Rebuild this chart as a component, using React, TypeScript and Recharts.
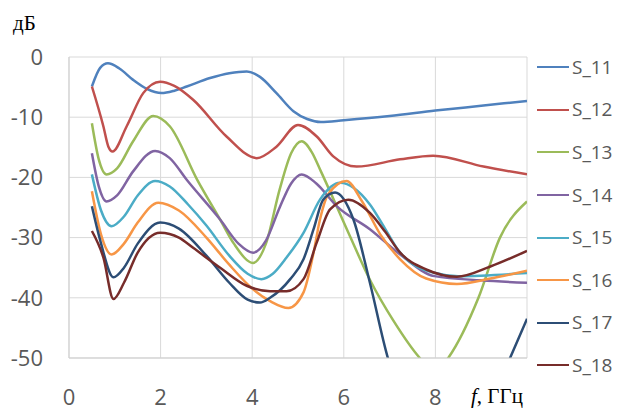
import { LineChart, Line, XAxis, YAxis, CartesianGrid, Legend } from "recharts";

// frequency (GHz), level (dB) pairs
const s11: [number, number][] = [
  [0.5, -4.9], [0.68, -1.8], [0.85, -1.05], [1.1, -1.9], [1.4, -3.8], [1.7, -5.3],
  [2.02, -6], [2.3, -5.6], [2.57, -4.9], [3.08, -3.5], [3.5, -2.7], [3.88, -2.4],
  [4.17, -3.3], [4.53, -6], [4.9, -9], [5.2, -10.3], [5.5, -10.8], [6, -10.5],
  [7, -9.8], [8, -8.9], [9, -8.1], [10, -7.3],
];
const s12: [number, number][] = [
  [0.5, -4.9], [0.75, -11.5], [0.86, -14.9], [0.95, -15.7], [1.26, -11.5], [1.62, -6],
  [1.99, -4.1], [2.3, -4.8], [2.71, -7.1], [3.44, -13.2], [4.1, -16.8], [4.53, -14.9],
  [5.0, -11.3], [5.41, -13.2], [5.77, -16.5], [6.28, -18.2], [7.23, -17.0], [7.95, -16.4],
  [9.05, -18.2], [10, -19.5],
];
const s13: [number, number][] = [
  [0.5, -11], [0.65, -17], [0.82, -19.5], [1.05, -18.5], [1.4, -14], [1.84, -9.8],
  [2.2, -11.5], [2.8, -20.4], [3.3, -27], [3.6, -31], [4.02, -34.2], [4.3, -31],
  [4.6, -22], [4.85, -16], [5.08, -14], [5.3, -15.8], [5.5, -19], [6.13, -29.7],
  [6.57, -37], [7.1, -44], [7.66, -50], [8, -52.5], [8.28, -50], [8.94, -40],
  [9.41, -30], [10, -24],
];
const s14: [number, number][] = [
  [0.5, -16], [0.65, -21.5], [0.82, -24], [1.05, -23], [1.4, -19], [1.88, -15.6],
  [2.2, -16.8], [2.57, -20.4], [3.3, -27], [3.7, -31], [4.02, -32.5], [4.3, -30.5],
  [4.6, -25], [4.85, -21], [5.08, -19.5], [5.4, -21], [5.85, -24.8], [6.57, -28.6],
  [7.23, -32.8], [7.98, -36.4], [9, -37.1], [10, -37.5],
];
const s15: [number, number][] = [
  [0.5, -19.5], [0.7, -25.5], [0.93, -28.1], [1.2, -26.5], [1.5, -23], [1.88, -20.6],
  [2.2, -21.5], [2.6, -24.5], [3, -28], [3.5, -33], [3.9, -36], [4.2, -36.9],
  [4.45, -36], [4.75, -33.3], [5.12, -29.2], [5.48, -23.7], [5.92, -20.9], [6.57, -24.5],
  [6.9, -28.5], [7.23, -32.5], [7.95, -35.8], [8.5, -36.4], [10, -35.9],
];
const s16: [number, number][] = [
  [0.5, -22.3], [0.7, -29.5], [0.93, -32.8], [1.2, -31], [1.5, -27.5], [1.95, -24.2],
  [2.4, -25.5], [3, -30], [3.5, -34.5], [4.02, -38.6], [4.4, -40.6], [4.79, -41.7],
  [5.12, -39.1], [5.34, -32.5], [5.48, -27], [5.66, -22.8], [6.06, -20.6], [6.4, -24],
  [6.8, -29.5], [7.23, -33.6], [7.8, -36.8], [8.47, -37.7], [9.2, -36.8], [10, -35.5],
];
const s17: [number, number][] = [
  [0.5, -24.8], [0.7, -31], [0.97, -36.6], [1.2, -35], [1.5, -31], [1.99, -27.5],
  [2.4, -28.5], [3, -33], [3.5, -37.5], [3.9, -40.3], [4.17, -40.8], [4.39, -40],
  [4.83, -36.9], [5.12, -33.6], [5.34, -28.6], [5.55, -23.7], [5.81, -22.5], [6.21, -27],
  [6.57, -37.5], [6.97, -50.2], [7.3, -57], [8.3, -64], [9.3, -56], [9.63, -50],
  [10, -43.5],
];
const s18: [number, number][] = [
  [0.5, -28.9], [0.75, -33.3], [0.97, -40.2], [1.2, -37.5], [1.5, -32.5], [1.99, -29.2],
  [2.4, -30], [2.71, -31.7], [3.3, -35], [3.88, -38], [4.39, -38.9], [4.75, -38.9],
  [5.12, -36.9], [5.41, -30.8], [5.7, -25.3], [6.1, -23.7], [6.57, -25.9], [6.9, -29],
  [7.23, -32.5], [7.8, -35.3], [8.47, -36.5], [9.2, -34.8], [10, -32.2],
];

const names = ["S_11", "S_12", "S_13", "S_14", "S_15", "S_16", "S_17", "S_18"];
const colors = ["#4F81BD", "#C0504D", "#9BBB59", "#8064A2", "#4BACC6", "#F79646", "#2C4D75", "#772C2A"];
const seriesData = [s11, s12, s13, s14, s15, s16, s17, s18];
const xTicks = [0, 2, 4, 6, 8, 10];
const yTicks = [0, -10, -20, -30, -40, -50];

const tickFont = "'Open Sans', sans-serif";
const serif = "'Liberation Serif', 'Times New Roman', serif";

function XTick({ x, y, payload }: any) {
  if (payload.value === 10) return <g />;
  return (
    <text x={x} y={y + 38} textAnchor="middle" dominantBaseline="central" fill="#595959" fontSize={22} fontFamily={tickFont}>
      {payload.value}
    </text>
  );
}

function renderLegend({ payload }: any) {
  return (
    <div>
      {(payload || []).map((item: any) => (
        <div key={item.value} style={{ display: "flex", alignItems: "center", height: 42.6 }}>
          <span style={{ width: 32, height: 0, borderTop: `2.5px solid ${item.color}`, marginRight: 3 }} />
          <span style={{ fontFamily: tickFont, fontSize: 19, color: "#595959", lineHeight: 1 }}>{item.value}</span>
        </div>
      ))}
    </div>
  );
}

export default function App() {
  return (
    <div style={{ position: "absolute", left: 0, top: 0 }}>
      <LineChart width={621} height={411} margin={{ top: 57, right: 94, bottom: 0, left: 9 }}>
        <CartesianGrid stroke="#d9d9d9" />
        <XAxis
          type="number"
          dataKey="f"
          domain={[0, 10]}
          ticks={xTicks}
          allowDataOverflow
          height={53}
          tickLine={false}
          tickSize={0}
          tickMargin={0}
          axisLine={{ stroke: "#cfcfcf" }}
          tick={<XTick />}
          label={{
            content: ({ viewBox }: any) => (
              <text x={viewBox.x + viewBox.width - 56} y={viewBox.y + 38} dominantBaseline="central" fontSize={21} fontFamily={serif} fill="#000">
                <tspan fontStyle="italic">f</tspan>, ГГц
              </text>
            ),
          }}
        />
        <YAxis
          type="number"
          domain={[-50, 0]}
          ticks={yTicks}
          allowDataOverflow
          width={60}
          tickLine={false}
          tickSize={0}
          tickMargin={26}
          axisLine={{ stroke: "#cfcfcf" }}
          tick={{ fill: "#595959", fontSize: 22, fontFamily: tickFont }}
          label={{
            content: ({ viewBox }: any) => (
              <text x={viewBox.x + 4} y={viewBox.y - 34} dominantBaseline="central" fontSize={21} fontFamily={serif} fill="#000">
                дБ
              </text>
            ),
          }}
        />
        <Legend
          layout="vertical"
          align="center"
          verticalAlign="middle"
          wrapperStyle={{ left: 537, top: 46, width: 84 }}
          content={renderLegend}
        />
        {seriesData.map((pts, i) => (
          <Line
            key={names[i]}
            name={names[i]}
            data={pts.map(([f, v]) => ({ f, v }))}
            dataKey="v"
            type="monotone"
            stroke={colors[i]}
            strokeWidth={2.5}
            dot={false}
            activeDot={false}
            isAnimationActive={false}
          />
        ))}
      </LineChart>
    </div>
  );
}
